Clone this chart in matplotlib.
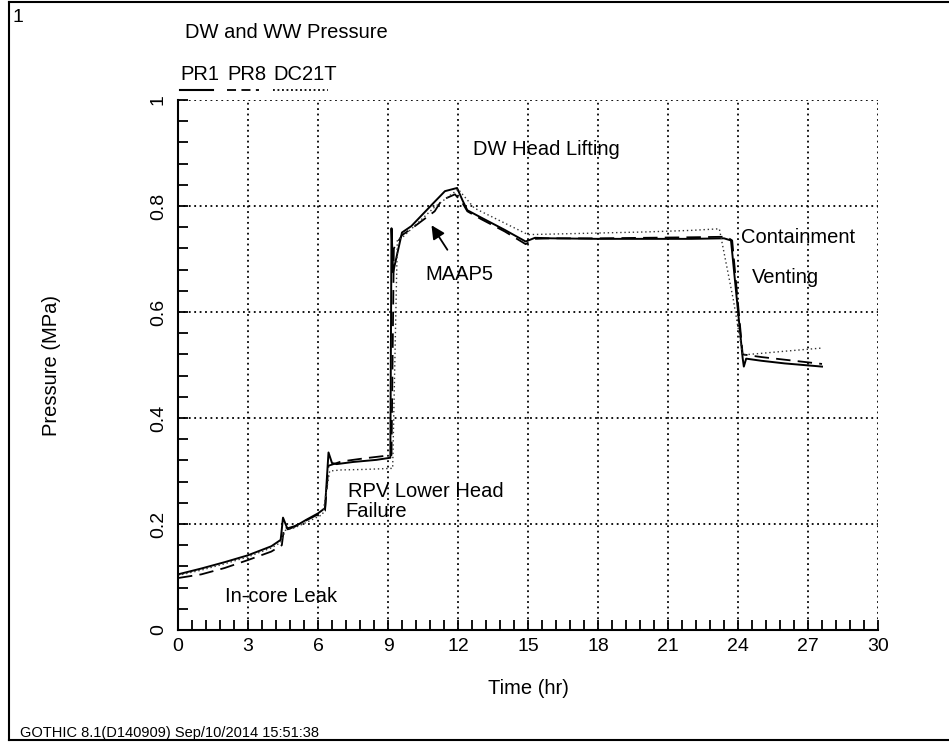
import matplotlib.pyplot as plt
from matplotlib.lines import Line2D
from matplotlib.ticker import MultipleLocator

plt.rcParams['font.family'] = ['Liberation Sans', 'DejaVu Sans']

# PR1 - drywell/wetwell pressure (solid)
t_pr1 = [0, 1, 2, 3, 4, 4.4, 4.5, 4.7, 5.0, 5.5, 6.0, 6.3, 6.45, 6.6, 6.8, 7.5, 8.5,
         9.1, 9.15, 9.22, 9.6, 10.0, 10.5, 11.0, 11.44, 11.96, 12.2, 12.4, 13.0, 14.0,
         14.9, 15.3, 16, 18, 20, 22, 23.4, 23.7, 24.2, 24.25, 24.35, 25, 26, 27.6]
p_pr1 = [0.105, 0.116, 0.128, 0.141, 0.158, 0.17, 0.212, 0.19, 0.195, 0.208, 0.22, 0.23,
         0.335, 0.315, 0.313, 0.317, 0.321, 0.325, 0.758, 0.675, 0.75, 0.762, 0.785, 0.808,
         0.828, 0.834, 0.81, 0.792, 0.778, 0.755, 0.733, 0.74, 0.739, 0.738, 0.738, 0.738,
         0.739, 0.735, 0.513, 0.497, 0.512, 0.508, 0.503, 0.497]

# PR8 (dashed)
t_pr8 = [0, 1, 2, 3, 4, 4.45, 4.55, 4.7, 5.0, 5.5, 6.0, 6.3, 6.45, 6.6, 7.0, 8.0, 9.15,
         9.25, 9.6, 10.0, 11.0, 11.3, 11.87, 12.2, 12.4, 13.0, 14.0, 14.9, 15.3, 16, 18,
         20, 22, 23.5, 23.75, 24.2, 25, 26, 27.6]
p_pr8 = [0.098, 0.105, 0.117, 0.132, 0.148, 0.16, 0.195, 0.192, 0.196, 0.207, 0.218, 0.225,
         0.31, 0.312, 0.318, 0.324, 0.33, 0.72, 0.745, 0.757, 0.79, 0.811, 0.822, 0.805,
         0.79, 0.775, 0.752, 0.728, 0.738, 0.739, 0.739, 0.74, 0.741, 0.742, 0.735, 0.52,
         0.515, 0.51, 0.502]

# DC21T (dotted)
t_dc21 = [0, 1, 2, 3, 4, 4.4, 4.6, 5.0, 5.5, 6.2, 6.5, 7.0, 8.0, 9.2, 9.4, 9.6, 11.0,
          11.9, 12.0, 12.7, 15.0, 16, 18, 20, 22, 23.2, 23.8, 24.2, 25, 26, 27.6]
p_dc21 = [0.103, 0.113, 0.125, 0.138, 0.155, 0.165, 0.188, 0.193, 0.203, 0.218, 0.3, 0.302,
          0.303, 0.305, 0.736, 0.74, 0.798, 0.828, 0.832, 0.796, 0.746, 0.747, 0.749, 0.751,
          0.754, 0.757, 0.623, 0.519, 0.522, 0.526, 0.532]

x_ticks = [0, 3, 6, 9, 12, 15, 18, 21, 24, 27, 30]
y_ticks = [0, 0.2, 0.4, 0.6, 0.8, 1]
y_ticklabels = ['0', '0.2', '0.4', '0.6', '0.8', '1']

fig = plt.figure(figsize=(9.49, 7.42), dpi=100)
ax = fig.add_axes([178 / 949, 1 - 630 / 742, 700 / 949, 530 / 742])

ax.plot(t_pr1, p_pr1, color='black', lw=1.4, ls='-')
ax.plot(t_pr8, p_pr8, color='black', lw=1.3, ls=(0, (8, 4)))
ax.plot(t_dc21, p_dc21, color='#333333', lw=1.0, ls=(0, (1, 2)))

ax.set_xlim(0, 30)
ax.set_ylim(0, 1)
ax.set_xticks(x_ticks)
ax.set_yticks(y_ticks)
ax.set_yticklabels(y_ticklabels)
ax.xaxis.set_minor_locator(MultipleLocator(0.6))
ax.yaxis.set_minor_locator(MultipleLocator(0.04))
ax.tick_params(which='both', direction='in', length=7, width=1.3, labelsize=14, color='black')
ax.tick_params(axis='x', pad=6)
ax.tick_params(axis='y', pad=8, labelrotation=90)
for lab in ax.get_yticklabels():
    lab.set_va('center')

ax.grid(True, which='major', color='black', ls=(0, (1, 2)), lw=1.3)
ax.spines['top'].set_visible(False)
ax.spines['right'].set_visible(False)
ax.spines['left'].set_linewidth(1.5)
ax.spines['bottom'].set_linewidth(1.5)
ax.set_axisbelow(True)

ax.set_xlabel('Time (hr)', fontsize=14.5, labelpad=17)
ax.set_ylabel('Pressure (MPa)', fontsize=14.5, labelpad=64)

# event notes
note = dict(fontsize=14.5, va='center', ha='left')
ax.text(12.64, 0.906, 'DW Head Lifting', **note)
ax.text(10.59, 0.67, 'MAAP5', **note)
ax.text(24.13, 0.74, 'Containment', **note)
ax.text(24.6, 0.666, 'Venting', **note)
ax.text(7.29, 0.262, 'RPV Lower Head', **note)
ax.text(7.16, 0.223, 'Failure', **note)
ax.text(2.01, 0.064, 'In-core Leak', **note)
ax.annotate('', xy=(10.8, 0.768), xytext=(11.61, 0.713),
            arrowprops=dict(arrowstyle='-|>', color='black', lw=1.3, mutation_scale=20))

# header and legend
fig.text(12 / 949, 1 - 18 / 742, '1', fontsize=14, va='center', ha='left')
fig.text(185 / 949, 1 - 33 / 742, 'DW and WW Pressure', fontsize=14.5, va='center', ha='left')
legend_items = [('PR1', 180, 213, '-'), ('PR8', 227, 259, (0, (5, 3))), ('DC21T', 273, 328, (0, (1, 1.5)))]
for name, x0, x1, style in legend_items:
    fig.text(x0 / 949, 1 - 75 / 742, name, fontsize=14.5, va='center', ha='left')
    fig.add_artist(Line2D([x0 / 949, x1 / 949], [1 - 90 / 742, 1 - 90 / 742],
                          color='black', lw=1.3 if style != '-' else 1.5, ls=style))

fig.text(20 / 949, 1 - 733 / 742, 'GOTHIC 8.1(D140909) Sep/10/2014 15:51:38',
         fontsize=10.5, va='center', ha='left')

# page border
border = dict(color='black', lw=1.5)
fig.add_artist(Line2D([9 / 949, 9 / 949], [1 - 740 / 742, 1 - 2 / 742], **border))
fig.add_artist(Line2D([9 / 949, 1], [1 - 2 / 742, 1 - 2 / 742], **border))
fig.add_artist(Line2D([9 / 949, 1], [1 - 740 / 742, 1 - 740 / 742], **border))

fig.savefig('out.png', dpi=100)
